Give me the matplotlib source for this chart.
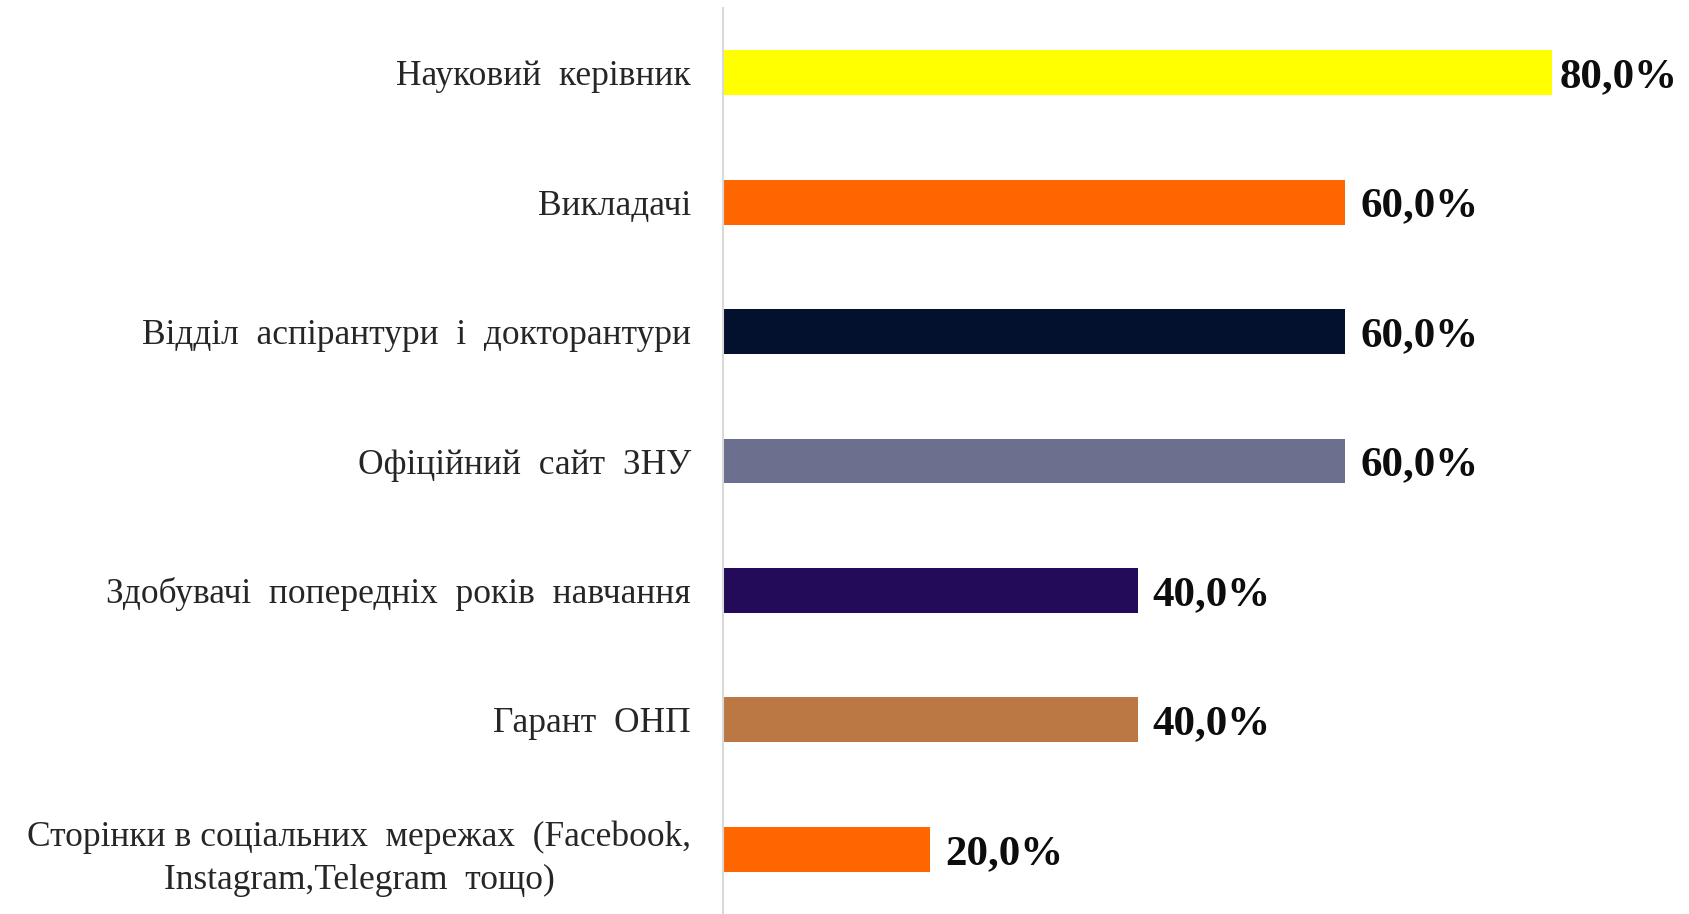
import matplotlib
matplotlib.use("Agg")
import matplotlib.pyplot as plt

categories = [
    "Науковий  керівник",
    "Викладачі",
    "Відділ  аспірантури  і  докторантури",
    "Офіційний  сайт  ЗНУ",
    "Здобувачі  попередніх  років  навчання",
    "Гарант  ОНП",
    "Сторінки в соціальних  мережах  (Facebook,\nInstagram,Telegram  тощо)",
]
values = [80.0, 60.0, 60.0, 60.0, 40.0, 40.0, 20.0]
colors = ["#FFFF00", "#FF6600", "#03102E", "#6C6F8D", "#230B5A", "#BB7844", "#FF6600"]

plt.rcParams['font.family'] = ['Liberation Serif', 'DejaVu Serif']

fig = plt.figure(figsize=(16.9, 9.14), dpi=100)
ax = fig.add_axes([723 / 1690, 0.0, 933 / 1690, 1 - 8 / 914])

y = list(range(len(categories)))
ax.barh(y, values, height=0.347, color=colors)
ax.set_xlim(0, 90)
ax.set_ylim(len(categories) - 0.5, -0.5)

ax.set_yticks(y)
ax.set_yticklabels(categories, fontsize=25.5, color="#262626",
                   multialignment="center", linespacing=1.4)
ax.tick_params(axis="y", length=0, pad=23)
ax.set_xticks([])

for s in ["top", "right", "bottom"]:
    ax.spines[s].set_visible(False)
ax.spines["left"].set_color("#D9D9D9")
ax.spines["left"].set_linewidth(1.5)

vmax = max(values)
for yi, v in zip(y, values):
    off = 0.7 if v == vmax else 1.45
    ax.text(v + off, yi, f"{v:.1f}%".replace(".", ","), va="center_baseline", ha="left",
            fontsize=31, fontweight="bold", color="#0D0D0D")

fig.savefig("out.png", dpi=100)
